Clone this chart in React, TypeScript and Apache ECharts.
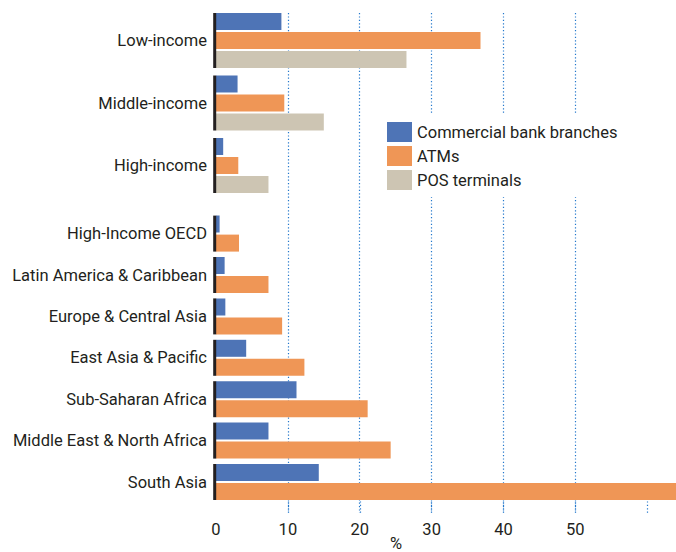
import React, { useEffect, useRef } from "react";
import * as echarts from "echarts";

const upperCats = ["Low-income", "Middle-income", "High-income"];
const upperBranches = [9.1, 3.0, 1.0];
const upperATMs = [36.8, 9.5, 3.1];
const upperPOS = [26.5, 15.0, 7.3];

const lowerCats = [
  "High-Income OECD",
  "Latin America & Caribbean",
  "Europe & Central Asia",
  "East Asia & Pacific",
  "Sub-Saharan Africa",
  "Middle East & North Africa",
  "South Asia",
];
const lowerBranches = [0.5, 1.2, 1.3, 4.2, 11.2, 7.3, 14.3];
const lowerATMs = [3.2, 7.3, 9.2, 12.3, 21.1, 24.3, 64];

const seriesNames = ["Commercial bank branches", "ATMs", "POS terminals"];
const xTickLabels = ["0", "10", "20", "30", "40", "50"];

const BLUE = "#4e74b6";
const ORANGE = "#ef9656";
const GRAY = "#cdc5b3";
const INK = "#231f20";
const GRID_BLUE = "#2277cc";
const FONT = "Roboto";
const BAR = 17;
const GAP = 2;

function groupLine(cats: string[], n: number, xi: number) {
  return {
    type: "custom",
    xAxisIndex: xi,
    yAxisIndex: xi,
    silent: true,
    z: 5,
    encode: { x: 0, y: 1 },
    data: cats.map((c) => [0, c]),
    renderItem: (_p: any, api: any) => {
      const c = api.coord([0, api.value(1)]);
      const h = n * BAR + (n - 1) * GAP;
      return {
        type: "rect",
        shape: { x: c[0] - 2.8, y: c[1] - h / 2, width: 3, height: h },
        style: { fill: INK },
      };
    },
  };
}

export default function App() {
  const ref = useRef<HTMLDivElement>(null);
  useEffect(() => {
    if (!ref.current) return;
    const chart = echarts.init(ref.current, null, { renderer: "svg" });
    const dotted = { color: GRID_BLUE, type: [1.2, 2.2], width: 1.2 };
    const hiddenX = (max: number, gi: number) => ({
      type: "value",
      gridIndex: gi,
      min: 0,
      max,
      show: false,
    });
    const catY = (cats: string[], gi: number) => ({
      type: "category",
      gridIndex: gi,
      data: cats,
      inverse: true,
      axisLine: { show: false },
      axisTick: { show: false },
      axisLabel: { color: INK, fontSize: 16.5, fontFamily: FONT, margin: 9 },
    });
    chart.setOption({
      animation: false,
      textStyle: { fontFamily: FONT },
      grid: [
        { left: 216, top: 13, width: 395.3, height: 500 },
        { left: 216, top: 9.25, width: 460, height: 187.5 },
        { left: 216, top: 212.9, width: 460, height: 289.8 },
        { left: 216, top: 498, width: 460, height: 15 },
      ],
      xAxis: [
        {
          type: "value",
          gridIndex: 0,
          min: 0,
          max: 55,
          interval: 10,
          axisLine: { show: false },
          axisTick: { show: false },
          axisLabel: {
            color: INK,
            fontSize: 16.5,
            fontFamily: FONT,
            margin: 8,
            showMaxLabel: true,
            showMinLabel: true,
            formatter: (v: number) => {
              const s = String(v);
              return xTickLabels.indexOf(s) >= 0 ? s : "";
            },
          },
          splitLine: {
            show: true,
            showMinLine: false,
            showMaxLine: false,
            lineStyle: dotted,
          },
        },
        hiddenX(64, 1),
        hiddenX(64, 2),
        {
          type: "value",
          gridIndex: 3,
          min: 0,
          max: 64,
          interval: 10,
          axisLine: { show: false },
          axisTick: { show: false },
          axisLabel: { show: false },
          splitLine: {
            show: true,
            showMinLine: false,
            showMaxLine: false,
            lineStyle: dotted,
          },
        },
      ],
      yAxis: [
        { type: "value", gridIndex: 0, show: false },
        catY(upperCats, 1),
        catY(lowerCats, 2),
        { type: "value", gridIndex: 3, show: false },
      ],
      legend: {
        data: seriesNames,
        orient: "vertical",
        left: 379,
        top: 113,
        padding: [9, 8, 7, 8],
        backgroundColor: "#ffffff",
        itemWidth: 25,
        itemHeight: 20,
        itemGap: 4,
        icon: "rect",
        selectedMode: false,
        textStyle: { color: INK, fontSize: 16.5, fontFamily: FONT },
      },
      graphic: [
        {
          type: "text",
          left: 390,
          top: 535,
          style: { text: "%", fill: INK, fontSize: 16.5, fontFamily: FONT },
        },
      ],
      series: [
        {
          type: "bar",
          name: seriesNames[0],
          xAxisIndex: 1,
          yAxisIndex: 1,
          data: upperBranches,
          barWidth: BAR,
          barGap: "11.8%",
          itemStyle: { color: BLUE },
        },
        {
          type: "bar",
          name: seriesNames[1],
          xAxisIndex: 1,
          yAxisIndex: 1,
          data: upperATMs,
          barWidth: BAR,
          barGap: "11.8%",
          itemStyle: { color: ORANGE },
        },
        {
          type: "bar",
          name: seriesNames[2],
          xAxisIndex: 1,
          yAxisIndex: 1,
          data: upperPOS,
          barWidth: BAR,
          barGap: "11.8%",
          itemStyle: { color: GRAY },
        },
        {
          type: "bar",
          name: seriesNames[0],
          xAxisIndex: 2,
          yAxisIndex: 2,
          data: lowerBranches,
          barWidth: BAR,
          barGap: "11.8%",
          itemStyle: { color: BLUE },
        },
        {
          type: "bar",
          name: seriesNames[1],
          xAxisIndex: 2,
          yAxisIndex: 2,
          data: lowerATMs,
          barWidth: BAR,
          barGap: "11.8%",
          itemStyle: { color: ORANGE },
        },
        groupLine(upperCats, 3, 1),
        groupLine(lowerCats, 2, 2),
      ],
    });
    return () => chart.dispose();
  }, []);
  return <div ref={ref} style={{ width: 676, height: 552, position: "absolute", left: 0, top: 0 }} />;
}
